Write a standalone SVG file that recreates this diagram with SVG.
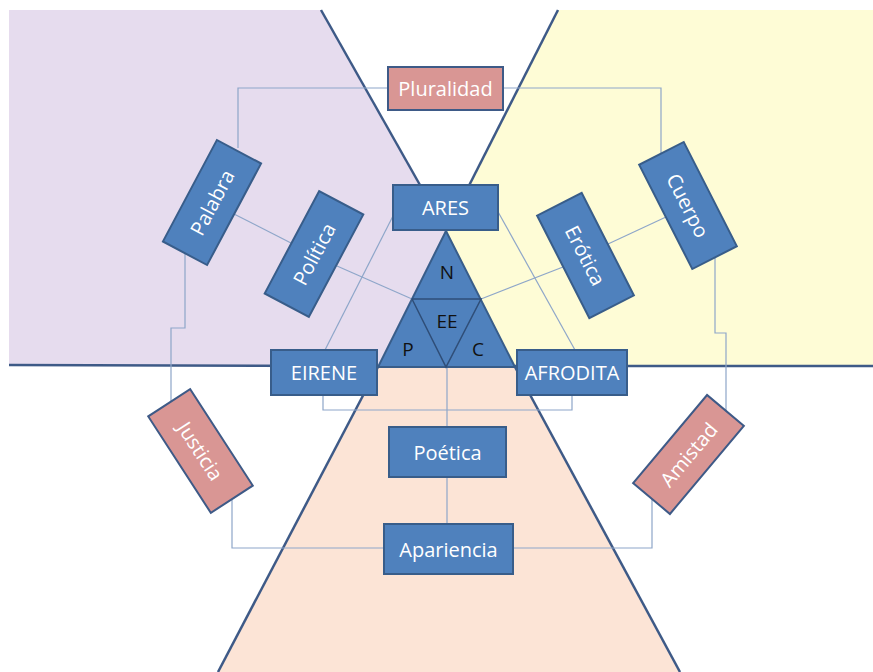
<svg xmlns="http://www.w3.org/2000/svg" width="873" height="672" viewBox="0 0 873 672">
<style>
.edge{stroke:#3E5A87;stroke-width:2.5;fill:none}
.con{stroke:#8EA6C9;stroke-width:1.2;fill:none}
.box{fill:#4F81BD;stroke:#385D8A;stroke-width:2}
.pink{fill:#D99694;stroke:#3E5A87;stroke-width:2}
.t{font-family:"Open Sans","Liberation Sans",sans-serif;font-size:20px;fill:#FFFFFF;text-anchor:middle;dominant-baseline:central}
.k{font-family:"Open Sans","Liberation Sans",sans-serif;font-size:19px;fill:#111111;text-anchor:middle;dominant-baseline:central}
</style>
<rect width="873" height="672" fill="#FFFFFF"/>
<g id="regions">
<polygon points="9,10 321,10 446,231 378,365 9,365" fill="#E6DCEE"/>
<polygon points="558,10 873,10 873,366 515,366 446,231" fill="#FEFCD6"/>
<polygon points="378,367 515,367 680,672 218,672" fill="#FCE4D6"/>
<line class="edge" x1="321" y1="10" x2="446" y2="231"/>
<line class="edge" x1="558" y1="10" x2="446" y2="231"/>
<line class="edge" x1="9" y1="365" x2="378" y2="366"/>
<line class="edge" x1="515" y1="366" x2="873" y2="366"/>
<line class="edge" x1="378" y1="367" x2="218" y2="672"/>
<line class="edge" x1="515" y1="367" x2="680" y2="672"/>
</g>
<g id="connectors">
<polyline class="con" points="388,88 238,88 238,148"/>
<polyline class="con" points="503,88 661,88 661,154"/>
<line class="con" x1="234" y1="214" x2="291" y2="243"/>
<line class="con" x1="337" y1="266" x2="412" y2="299"/>
<line class="con" x1="481" y1="299" x2="563" y2="267"/>
<line class="con" x1="608" y1="244" x2="666" y2="217"/>
<polyline class="con" points="715,257 715,333 726,333 726,411"/>
<polyline class="con" points="185,254 185,328 171,328 171,402"/>
<polyline class="con" points="232,500 232,548 384,548"/>
<polyline class="con" points="652,498 652,548 513,548"/>
<line class="con" x1="394" y1="214" x2="325" y2="350"/>
<line class="con" x1="497" y1="210" x2="575" y2="350"/>
<polyline class="con" points="323,395 323,410 572,410 572,395"/>
<line class="con" x1="447" y1="367" x2="447" y2="427"/>
<line class="con" x1="447" y1="477" x2="447" y2="524"/>
</g>
<g id="triangle">
<polygon points="446,231 378,367 515,367" fill="#4F81BD" stroke="#385D8A" stroke-width="2"/>
<polyline points="412,299 481,299 446,367 412,299" fill="none" stroke="#2F4E78" stroke-width="1.5"/>
<text class="k" x="447" y="272">N</text>
<text class="k" x="447" y="321">EE</text>
<text class="k" x="408" y="349">P</text>
<text class="k" x="478" y="349">C</text>
</g>
<g id="pluralidad"><rect class="pink" x="388" y="67" width="115" height="43"/><text class="t" x="445.5" y="88.5">Pluralidad</text></g>
<g id="ares"><rect class="box" x="393" y="185" width="105" height="45"/><text class="t" x="445.5" y="207.5">ARES</text></g>
<g id="eirene"><rect class="box" x="271" y="350" width="106" height="45"/><text class="t" x="324" y="372.5">EIRENE</text></g>
<g id="afrodita"><rect class="box" x="517" y="350" width="110" height="45"/><text class="t" x="572" y="372.5">AFRODITA</text></g>
<g id="poetica"><rect class="box" x="389" y="427" width="117" height="50"/><text class="t" x="447.5" y="452">Poética</text></g>
<g id="apariencia"><rect class="box" x="384" y="524" width="129" height="50"/><text class="t" x="448.5" y="549">Apariencia</text></g>
<g id="palabra" transform="translate(212,202.5) rotate(-62)"><rect class="box" x="-57.5" y="-25" width="115" height="50"/><text class="t" x="0" y="0">Palabra</text></g>
<g id="politica" transform="translate(314,254) rotate(-62)"><rect class="box" x="-58" y="-25" width="116" height="50"/><text class="t" x="0" y="0">Política</text></g>
<g id="erotica" transform="translate(585.5,255.5) rotate(63)"><rect class="box" x="-57.5" y="-25" width="115" height="50"/><text class="t" x="0" y="0">Erótica</text></g>
<g id="cuerpo" transform="translate(688,205.5) rotate(63)"><rect class="box" x="-58.5" y="-25" width="117" height="50"/><text class="t" x="0" y="0">Cuerpo</text></g>
<g id="justicia" transform="translate(200.5,451) rotate(57)"><rect class="pink" x="-57.5" y="-25" width="115" height="50"/><text class="t" x="0" y="0">Justicia</text></g>
<g id="amistad" transform="translate(688.5,454.5) rotate(-50)"><rect class="pink" x="-57.5" y="-24" width="115" height="48"/><text class="t" x="0" y="0">Amistad</text></g>
</svg>
